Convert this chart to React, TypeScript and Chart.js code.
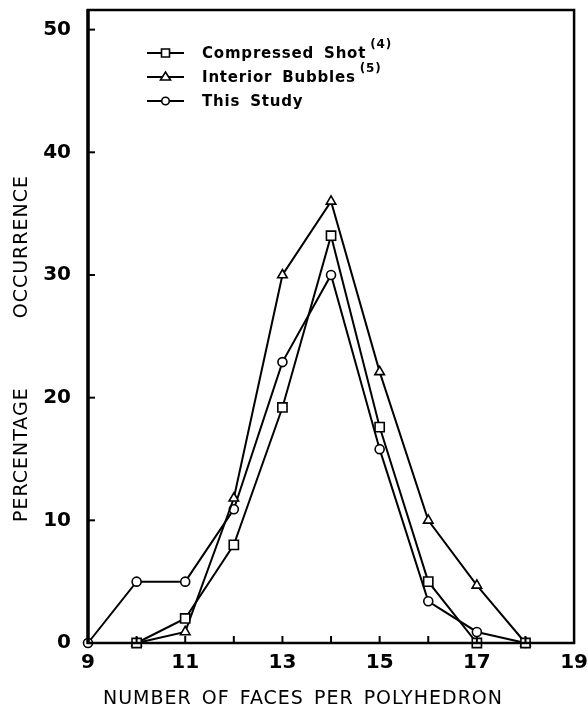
import React, { useEffect, useRef } from "react";
import { Chart, registerables } from "chart.js";

Chart.register(...registerables);

// Number of faces per polyhedron (x values) for each series
const facesCompressed = [10, 11, 12, 13, 14, 15, 16, 17, 18];
const compressedShot = [0, 2, 8, 19.2, 33.2, 17.6, 5, 0, 0];

const facesBubbles = [10, 11, 12, 13, 14, 15, 16, 17, 18];
const interiorBubbles = [0, 0.9, 11.8, 30, 36, 22.1, 10, 4.7, 0];

const facesStudy = [9, 10, 11, 12, 13, 14, 15, 16, 17, 18];
const thisStudy = [0, 5, 5, 10.9, 22.9, 30, 15.8, 3.4, 0.9, 0];

const xTickValues = [9, 10, 11, 12, 13, 14, 15, 16, 17, 18, 19];
const xTickLabels = ["9", "11", "13", "15", "17", "19"];
const yTickValues = [0, 10, 20, 30, 40, 50];

const seriesNames = ["Compressed Shot", "Interior Bubbles", "This Study"];
const seriesRefs = ["(4)", "(5)", ""];

const xTitle = "NUMBER OF FACES PER POLYHEDRON";
const yTitleWords = ["PERCENTAGE", "OCCURRENCE"];

const FONT = "'DejaVu Sans', sans-serif";

function toPoints(xs: number[], ys: number[]) {
  return xs.map((x, i) => ({ x, y: ys[i] }));
}

const decorPlugin = {
  id: "decor",
  afterDatasetsDraw(chart: any) {
    const { ctx, chartArea, scales } = chart;
    const xs = scales.x;
    const ys = scales.y;
    ctx.save();
    ctx.strokeStyle = "#000";
    // frame
    ctx.lineWidth = 2.5;
    ctx.strokeRect(chartArea.left, chartArea.top, chartArea.right - chartArea.left, chartArea.bottom - chartArea.top);
    ctx.lineWidth = 3.4;
    ctx.beginPath();
    ctx.moveTo(chartArea.left, chartArea.top - 1);
    ctx.lineTo(chartArea.left, chartArea.bottom + 1);
    ctx.stroke();
    // inward ticks
    ctx.lineWidth = 2;
    for (const v of xTickValues) {
      if (v === 9 || v === 19) continue;
      const px = xs.getPixelForValue(v);
      ctx.beginPath();
      ctx.moveTo(px, chartArea.bottom);
      ctx.lineTo(px, chartArea.bottom - 7);
      ctx.stroke();
    }
    for (const v of yTickValues) {
      if (v === 0) continue;
      const py = ys.getPixelForValue(v);
      ctx.beginPath();
      ctx.moveTo(chartArea.left, py);
      ctx.lineTo(chartArea.left + 7, py);
      ctx.stroke();
    }
    // legend
    const markers = ["rect", "triangle", "circle"];
    const rowY = [53, 77, 101];
    const lx0 = 147;
    const lx1 = 184;
    for (let i = 0; i < seriesNames.length; i++) {
      const y = rowY[i];
      ctx.lineWidth = 2;
      ctx.beginPath();
      ctx.moveTo(lx0, y);
      ctx.lineTo(lx1, y);
      ctx.stroke();
      const cx = (lx0 + lx1) / 2;
      ctx.fillStyle = "#fff";
      ctx.lineWidth = 1.6;
      ctx.beginPath();
      if (markers[i] === "rect") {
        ctx.rect(cx - 4, y - 4, 8, 8);
      } else if (markers[i] === "triangle") {
        ctx.moveTo(cx, y - 5);
        ctx.lineTo(cx + 5, y + 3);
        ctx.lineTo(cx - 5, y + 3);
        ctx.closePath();
      } else {
        ctx.arc(cx, y, 3.8, 0, Math.PI * 2);
      }
      ctx.fill();
      ctx.stroke();
      ctx.fillStyle = "#000";
      ctx.font = `bold 15px ${FONT}`;
      ctx.textAlign = "left";
      ctx.textBaseline = "middle";
      (ctx as any).letterSpacing = "0.8px";
      (ctx as any).wordSpacing = "4px";
      ctx.fillText(seriesNames[i], 202, y + 1);
      const w = ctx.measureText(seriesNames[i]).width;
      if (seriesRefs[i]) {
        ctx.font = `bold 12px ${FONT}`;
        ctx.fillText(seriesRefs[i], 202 + w + 4, y - 8);
      }
    }
    (ctx as any).wordSpacing = "0px";
    // axis titles
    ctx.fillStyle = "#000";
    ctx.font = `19px ${FONT}`;
    (ctx as any).letterSpacing = "1px";
    (ctx as any).wordSpacing = "3px";
    ctx.textAlign = "center";
    ctx.textBaseline = "middle";
    ctx.fillText(xTitle, 303, 699);
    (ctx as any).wordSpacing = "0px";
    ctx.translate(22, 0);
    ctx.rotate(-Math.PI / 2);
    ctx.textAlign = "left";
    ctx.fillText(yTitleWords[0], -522, 0);
    ctx.textAlign = "right";
    ctx.fillText(yTitleWords[1], -175, 0);
    ctx.restore();
  },
};

export default function App() {
  const ref = useRef<HTMLCanvasElement | null>(null);
  useEffect(() => {
    if (!ref.current) return;
    const common = {
      borderColor: "#000",
      borderWidth: 2,
      pointBackgroundColor: "#fff",
      pointBorderColor: "#000",
      pointBorderWidth: 1.6,
      tension: 0,
      clip: false as any,
      fill: false,
    };
    const chart = new Chart(ref.current, {
      type: "line",
      data: {
        datasets: [
          { ...common, label: seriesNames[0], data: toPoints(facesCompressed, compressedShot), pointStyle: "rect", pointRadius: 6.5 },
          { ...common, label: seriesNames[1], data: toPoints(facesBubbles, interiorBubbles), pointStyle: "triangle", pointRadius: 5.5 },
          { ...common, label: seriesNames[2], data: toPoints(facesStudy, thisStudy), pointStyle: "circle", pointRadius: 4.5 },
        ],
      },
      options: {
        animation: false,
        responsive: false,
        layout: { padding: { left: 0, right: 13, top: 10, bottom: 0 } },
        plugins: { legend: { display: false }, tooltip: { enabled: false } },
        scales: {
          x: {
            type: "linear",
            min: 9,
            max: 19,
            grid: { display: false },
            border: { display: false },
            afterBuildTicks: (s: any) => { s.ticks = xTickValues.map((v) => ({ value: v })); },
            afterFit: (s: any) => { s.height = 69; },
            ticks: {
              autoSkip: false,
              maxRotation: 0,
              padding: 0,
              color: "#000",
              font: { family: FONT, size: 20, weight: "bold" },
              callback: (v: any) => (xTickLabels.includes(String(v)) ? String(v) : ""),
            },
          },
          y: {
            type: "linear",
            min: 0,
            max: 51.6,
            grid: { display: false },
            border: { display: false },
            afterBuildTicks: (s: any) => { s.ticks = yTickValues.map((v) => ({ value: v })); },
            afterFit: (s: any) => { s.width = 88; s.paddingTop = 0; },
            ticks: {
              autoSkip: false,
              padding: 9,
              color: "#000",
              font: { family: FONT, size: 20, weight: "bold" },
              callback: (v: any) => String(v),
            },
          },
        },
      },
      plugins: [decorPlugin],
    });
    return () => chart.destroy();
  }, []);
  return (
    <div style={{ position: "fixed", left: 0, top: 0, width: 588, height: 712, background: "#fff" }}>
      <canvas ref={ref} width={588} height={712} style={{ width: 588, height: 712 }} />
    </div>
  );
}
